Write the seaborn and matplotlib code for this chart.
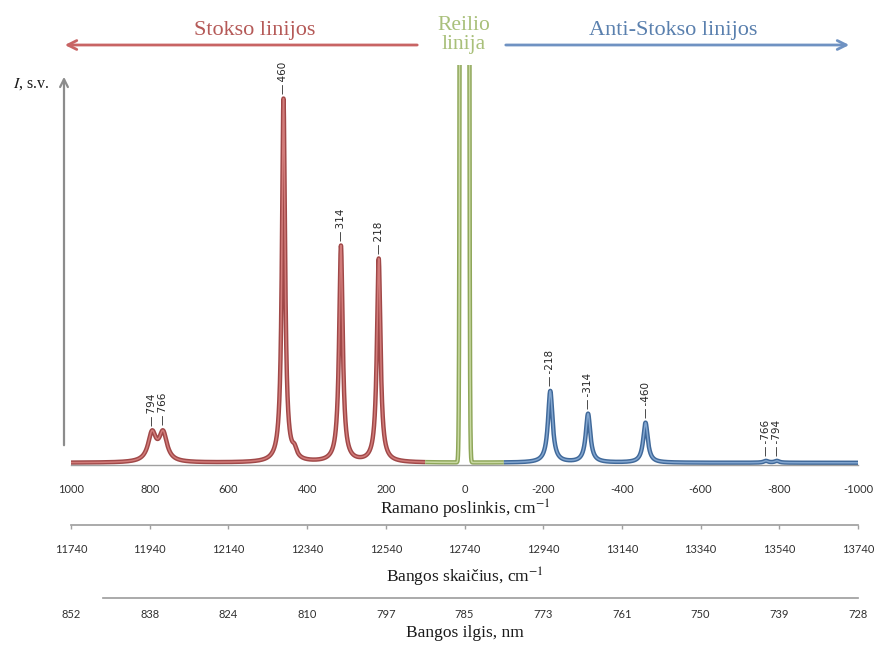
import numpy as np
import pandas as pd
import matplotlib
matplotlib.use("Agg")
import matplotlib.pyplot as plt
import seaborn as sns

# Raman bands: shift (cm^-1), relative height, half width at half maximum (cm^-1)
stokes_shift = [794, 766, 460, 432, 314, 218]
stokes_height = [7.7, 7.7, 100.0, 2.2, 59.5, 56.0]
stokes_hwhm = [12.0, 12.0, 4.8, 7.0, 5.5, 5.5]

anti_shift = [-218, -314, -460, -766, -794]
anti_height = [19.7, 13.4, 11.0, 0.5, 0.5]
anti_hwhm = [7.0, 7.0, 7.0, 7.0, 7.0]

# Elastic (Rayleigh) line at zero shift
rayleigh_height = 27000.0
rayleigh_sigma = 3.8

# Labelled bands
label_pos = [794, 766, 460, 314, 218, -218, -314, -460, -766, -794]
label_text = ["794", "766", "460", "314", "218", "-218", "-314", "-460", "-766", "-794"]

# Axis scales
laser_wavenumber = 12740
shift_ticks = [1000, 800, 600, 400, 200, 0, -200, -400, -600, -800, -1000]
wavenumber_ticks = [11740, 11940, 12140, 12340, 12540, 12740, 12940, 13140, 13340, 13540, 13740]
wavelength_labels = [852, 838, 824, 810, 797, 785, 773, 761, 750, 739, 728]

# Region limits for colouring the spectrum
rayleigh_edge = 100

RED_EDGE, RED_CORE = "#A04848", "#D27C7A"
GREEN_EDGE, GREEN_CORE = "#8EA659", "#C9D9A2"
BLUE_EDGE, BLUE_CORE = "#40699A", "#82A6D0"
GRAY = "#A0A0A0"

W, H = 888, 646
def fx(px):
    return px / W
def fy(py):
    return 1 - py / H


def spectrum(s):
    y = rayleigh_height * np.exp(-0.5 * (s / rayleigh_sigma) ** 2)
    for c, a, g in zip(stokes_shift + anti_shift,
                       stokes_height + anti_height,
                       stokes_hwhm + anti_hwhm):
        y = y + a * g ** 2 / ((s - c) ** 2 + g ** 2)
    return y


shift = np.linspace(1000, -1000, 16001)
intensity = spectrum(shift)

parts = []
for name, mask in [("stokes", shift >= rayleigh_edge),
                   ("rayleigh", (shift <= rayleigh_edge) & (shift >= -rayleigh_edge)),
                   ("anti", shift <= -rayleigh_edge)]:
    parts.append(pd.DataFrame({"shift": shift[mask], "I": intensity[mask], "region": name}))
df = pd.concat(parts, ignore_index=True)

sns.set_theme(style="white")
plt.rcParams["mathtext.fontset"] = "stix"

fig = plt.figure(figsize=(8.88, 6.46), dpi=100)
ax_left, ax_right = 71, 858
ax_top, ax_bottom = 65, 465
ax = fig.add_axes([fx(ax_left), fy(ax_bottom), (ax_right - ax_left) / W, (ax_bottom - ax_top) / H])

ymax = 109.5
ax.set_xlim(1000, -1000)
ax.set_ylim(-0.6, ymax)

edge_pal = {"stokes": RED_EDGE, "rayleigh": GREEN_EDGE, "anti": BLUE_EDGE}
core_pal = {"stokes": RED_CORE, "rayleigh": GREEN_CORE, "anti": BLUE_CORE}
sns.lineplot(data=df, x="shift", y="I", hue="region", palette=edge_pal, sort=False,
             estimator=None, linewidth=3.2, legend=False, ax=ax,
             solid_capstyle="butt", solid_joinstyle="round")
sns.lineplot(data=df, x="shift", y="I", hue="region", palette=core_pal, sort=False,
             estimator=None, linewidth=1.1, legend=False, ax=ax,
             solid_capstyle="butt", solid_joinstyle="round")

# Band labels with short leader dash
for p, t in zip(label_pos, label_text):
    ax.annotate("\u2014\u2009" + t, xy=(p, spectrum(np.array([p]))[0]), xytext=(0, 3.5),
                textcoords="offset points", rotation=90, ha="center", va="bottom",
                fontsize=7.5, color="#262626", family="DejaVu Sans")

# Main axis: Raman shift
for side in ["left", "right", "top"]:
    ax.spines[side].set_visible(False)
ax.spines["bottom"].set_color(GRAY)
ax.spines["bottom"].set_linewidth(1.0)
ax.set_xticks(shift_ticks)
ax.set_xticklabels([str(v) for v in shift_ticks])
ax.set_yticks([])
ax.tick_params(axis="x", direction="out", length=4, width=1, color=GRAY, pad=9.5,
               labelsize=8, labelcolor="#303030")
for lab in ax.get_xticklabels():
    lab.set_family("Lato")
ax.set_xlabel("")
ax.set_ylabel("")

# Wavenumber scale
to_wn = (lambda s: laser_wavenumber - s, lambda k: laser_wavenumber - k)
wn = ax.secondary_xaxis(-0.15, functions=to_wn)
wn.set_xticks(wavenumber_ticks)
wn.set_xticklabels([str(v) for v in wavenumber_ticks])
wn.spines["bottom"].set_color(GRAY)
wn.tick_params(axis="x", direction="out", length=3, width=1, color=GRAY, pad=10.5,
               labelsize=8, labelcolor="#303030")
for lab in wn.get_xticklabels():
    lab.set_family("Lato")

# Wavelength scale (rounded wavelengths at the wavenumber ticks)
wl = ax.secondary_xaxis(-0.3325, functions=to_wn)
wl.set_xticks(wavenumber_ticks)
wl.set_xticklabels([str(v) for v in wavelength_labels])
wl.spines["bottom"].set_color(GRAY)
wl.spines["bottom"].set_bounds(laser_wavenumber - 918, wavenumber_ticks[-1])
wl.tick_params(axis="x", direction="out", length=0, pad=8,
               labelsize=8, labelcolor="#303030")
for lab in wl.get_xticklabels():
    lab.set_family("Lato")

serif = "Liberation Serif"
fig.text(fx(465), fy(509), "Ramano poslinkis, cm$^{-1}$", ha="center", va="center",
         family=serif, fontsize=12.5, color="#1a1a1a")
fig.text(fx(465), fy(577), "Bangos skai\u010dius, cm$^{-1}$", ha="center", va="center",
         family=serif, fontsize=12.5, color="#1a1a1a")
fig.text(fx(465), fy(633), "Bangos ilgis, nm", ha="center", va="center",
         family=serif, fontsize=12.5, color="#1a1a1a")

# Intensity arrow
ax.annotate("", xy=(fx(64), fy(74)), xytext=(fx(64), fy(448)), xycoords="figure fraction",
            arrowprops=dict(arrowstyle="->", color="#8C8C8C", lw=1.6, mutation_scale=14),
            annotation_clip=False)
fig.text(fx(31), fy(84), "$I$, s.v.", ha="center", va="center", family=serif,
         fontsize=11.5, color="#1a1a1a")

# Region arrows and titles
ax.annotate("", xy=(fx(62), fy(45)), xytext=(fx(420), fy(45)), xycoords="figure fraction",
            arrowprops=dict(arrowstyle="->", color="#C86464", lw=2.0, mutation_scale=16),
            annotation_clip=False)
ax.annotate("", xy=(fx(852), fy(45)), xytext=(fx(503), fy(45)), xycoords="figure fraction",
            arrowprops=dict(arrowstyle="->", color="#6F92C2", lw=2.0, mutation_scale=16),
            annotation_clip=False)
fig.text(fx(255), fy(31), "Stokso linijos", ha="center", va="center", family=serif,
         fontsize=16, color="#B55A58")
fig.text(fx(673), fy(31), "Anti-Stokso linijos", ha="center", va="center", family=serif,
         fontsize=16, color="#5A80AE")
fig.text(fx(464), fy(35), "Reilio\nlinija", ha="center", va="center", family=serif,
         fontsize=15.5, color="#A9C07A", linespacing=1.05)

fig.savefig("out.png", dpi=100)
